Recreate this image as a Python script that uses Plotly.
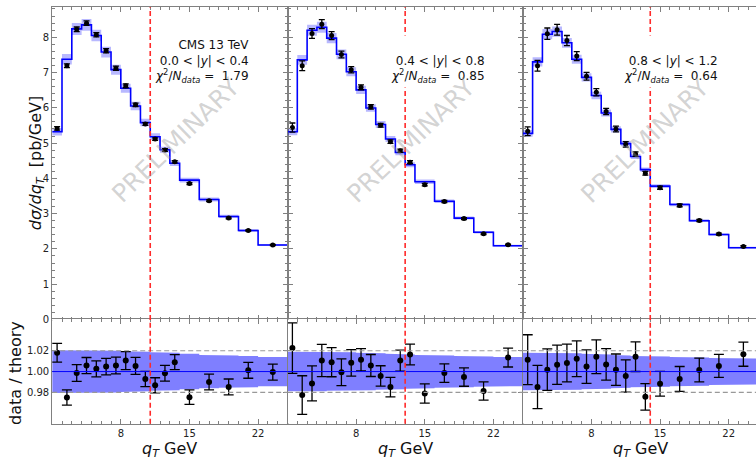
import plotly.graph_objects as go

# q_T binning (GeV) shared by the three rapidity slices
qt_edges = [1, 2, 3, 4, 5, 6, 7, 8, 9, 10, 11, 12, 13, 14, 16, 18, 20, 22, 25]

# theory prediction per bin (pb/GeV)
theory_y1 = [5.32, 7.375, 8.235, 8.35, 8.05, 7.58, 7.08, 6.555, 6.05, 5.58,
             5.18, 4.81, 4.43, 3.95, 3.40, 2.92, 2.52, 2.11]
theory_y2 = [5.32, 7.357, 8.197, 8.281, 7.973, 7.515, 7.02, 6.507, 5.993, 5.527,
             5.116, 4.733, 4.387, 3.902, 3.35, 2.874, 2.473, 2.09]
theory_y3 = [5.275, 7.30, 8.085, 8.16, 7.842, 7.375, 6.862, 6.349, 5.853, 5.387,
             4.985, 4.621, 4.247, 3.78, 3.257, 2.80, 2.408, 2.034]

# relative theory uncertainty (%)
theory_unc1 = [2.05, 2.05, 2.05, 2.0, 2.0, 2.0, 2.0, 1.95, 1.95, 1.9,
               1.85, 1.8, 1.8, 1.7, 1.6, 1.55, 1.5, 1.4]
theory_unc2 = [1.9, 1.9, 1.9, 1.9, 1.85, 1.85, 1.85, 1.8, 1.8, 1.75,
               1.7, 1.7, 1.65, 1.6, 1.55, 1.5, 1.45, 1.4]
theory_unc3 = [1.8, 1.8, 1.8, 1.8, 1.75, 1.75, 1.7, 1.7, 1.65, 1.6,
               1.55, 1.5, 1.5, 1.45, 1.4, 1.35, 1.3, 1.25]

# measured cross sections (pb/GeV)
data_y1 = [5.416, 7.191, 8.224, 8.398, 8.071, 7.616, 7.121, 6.624, 6.083, 5.540,
           5.112, 4.802, 4.470, 3.853, 3.366, 2.877, 2.523, 2.109]
data_y2 = [5.440, 7.191, 8.104, 8.369, 8.045, 7.510, 7.079, 6.581, 6.028, 5.504,
           5.040, 4.783, 4.459, 3.820, 3.345, 2.859, 2.427, 2.118]
data_y3 = [5.335, 7.192, 8.100, 8.213, 7.906, 7.466, 6.895, 6.439, 5.893, 5.397,
           4.964, 4.687, 4.144, 3.736, 3.234, 2.804, 2.421, 2.068]

# relative data uncertainty (%)
data_unc1 = [0.89, 0.75, 0.80, 0.77, 0.76, 0.79, 0.80, 0.85, 0.82, 0.74,
             0.73, 0.76, 0.71, 0.71, 0.77, 0.77, 0.76, 0.77]
data_unc2 = [2.37, 1.90, 1.70, 1.53, 1.39, 1.29, 1.26, 1.06, 1.05, 0.98,
             0.95, 1.00, 0.98, 0.94, 0.89, 0.89, 0.89, 0.89]
data_unc3 = [2.37, 2.10, 1.98, 1.87, 1.80, 1.70, 1.60, 1.60, 1.50, 1.50,
             1.55, 1.40, 1.30, 1.20, 1.20, 1.14, 1.10, 1.14]

rapidity_labels = ["0.0 &lt; |<i>y</i>| &lt; 0.4", "0.4 &lt; |<i>y</i>| &lt; 0.8",
                   "0.8 &lt; |<i>y</i>| &lt; 1.2"]
chi2_values = [1.79, 0.85, 0.64]
qt_cut = [11, 13, 14]
x_tick_vals = [8, 15, 22]

theories = [theory_y1, theory_y2, theory_y3]
theory_uncs = [theory_unc1, theory_unc2, theory_unc3]
datas = [data_y1, data_y2, data_y3]
data_uncs = [data_unc1, data_unc2, data_unc3]

W, H = 756, 460
FONT = "DejaVu Sans"
AX_GRAY = "#808080"

# panel geometry in pixels
col_px = [(52.2, 287.5), (287.5, 522.8), (522.8, 756.0)]
px_per_unit_y = 35.7
y_top_range = [-0.015, 8.85]
top_px = (7.3, 323.0 + 0.015 * px_per_unit_y)
rat_px = (323.0, 428.3)
px_per_gev = (col_px[0][1] - col_px[0][0]) / 24.0


def fx(p):
    return p / W


def fy(p):
    return 1 - p / H


def step_xy(edges, vals):
    xs, ys = [], []
    for i, v in enumerate(vals):
        xs += [edges[i], edges[i + 1]]
        ys += [v, v]
    return xs, ys


def band_xy(edges, lo, hi):
    xu, yu = step_xy(edges, hi)
    xl, yl = step_xy(edges, lo)
    return xu + xl[::-1] + [xu[0]], yu + yl[::-1] + [yu[0]]


def ax_id(k):
    return "" if k == 1 else str(k)


centers = [(qt_edges[i] + qt_edges[i + 1]) / 2 for i in range(len(qt_edges) - 1)]

fig = go.Figure()
layout = dict(
    width=W, height=H, margin=dict(l=0, r=0, t=0, b=0),
    paper_bgcolor="white", plot_bgcolor="white", showlegend=False,
    font=dict(family=FONT, size=10, color="#222"),
)

common_axis = dict(
    showline=True, linecolor=AX_GRAY, linewidth=1,
    ticks="inside", ticklen=5, tickwidth=1, tickcolor=AX_GRAY,
    showgrid=False, zeroline=False,
    tickfont=dict(family=FONT, size=10, color="#222"),
)

shapes, annotations = [], []

for c in range(3):
    k_top, k_rat = c + 1, c + 4
    th, tu, dv, du = theories[c], theory_uncs[c], datas[c], data_uncs[c]
    xt, xr = "x" + ax_id(k_top), "x" + ax_id(k_rat)
    yt, yr = "y" + ax_id(k_top), "y" + ax_id(k_rat)

    x0p, x1p = col_px[c]
    xmax = 1 + (x1p - x0p) / px_per_gev
    xdom = [fx(x0p), min(fx(x1p), 1.0)]
    # the last column runs past the page edge: no right-hand frame there
    y_mirror = "allticks" if c < 2 else False

    # ---- upper panel: cross section ----
    lo = [t * (1 - u / 100) for t, u in zip(th, tu)]
    hi = [t * (1 + u / 100) for t, u in zip(th, tu)]
    bx, by = band_xy(qt_edges, lo, hi)
    fig.add_trace(go.Scatter(x=bx, y=by, xaxis=xt, yaxis=yt, mode="lines",
                             fill="toself", fillcolor="rgba(0,0,255,0.28)",
                             line=dict(width=0), hoverinfo="skip"))
    sx, sy = step_xy(qt_edges, th)
    fig.add_trace(go.Scatter(x=sx, y=sy, xaxis=xt, yaxis=yt, mode="lines",
                             line=dict(color="#0000ff", width=1.6)))
    derr = [d * u / 100 for d, u in zip(dv, du)]
    fig.add_trace(go.Scatter(x=centers, y=dv, xaxis=xt, yaxis=yt, mode="markers",
                             marker=dict(color="black", size=5),
                             error_y=dict(type="data", array=derr, color="black",
                                          thickness=1.3, width=3)))

    # ---- lower panel: data / theory ----
    rlo = [1 - u / 100 for u in tu]
    rhi = [1 + u / 100 for u in tu]
    rbx, rby = band_xy(qt_edges, rlo, rhi)
    fig.add_trace(go.Scatter(x=rbx, y=rby, xaxis=xr, yaxis=yr, mode="lines",
                             fill="toself", fillcolor="rgba(0,0,255,0.5)",
                             line=dict(width=0), hoverinfo="skip"))
    ratio = [d / t for d, t in zip(dv, th)]
    rerr = [e / t for e, t in zip(derr, th)]
    fig.add_trace(go.Scatter(x=centers, y=ratio, xaxis=xr, yaxis=yr, mode="markers",
                             marker=dict(color="black", size=6),
                             error_y=dict(type="data", array=rerr, color="black",
                                          thickness=1.3, width=5)))

    # axes
    layout["xaxis" + ax_id(k_top)] = dict(
        common_axis, mirror="allticks", domain=xdom, range=[1, xmax], anchor=yt,
        tickmode="array", tickvals=x_tick_vals, showticklabels=False,
        minor=dict(ticks="inside", ticklen=3, tickcolor=AX_GRAY,
                   tickmode="linear", tick0=0, dtick=1))
    layout["xaxis" + ax_id(k_rat)] = dict(
        common_axis, mirror="allticks", domain=xdom, range=[1, xmax], anchor=yr,
        tickmode="array", tickvals=x_tick_vals,
        minor=dict(ticks="inside", ticklen=3, tickcolor=AX_GRAY,
                   tickmode="linear", tick0=0, dtick=1))
    layout["yaxis" + ax_id(k_top)] = dict(
        common_axis, mirror=y_mirror,
        domain=[fy(top_px[1]), fy(top_px[0])], range=y_top_range,
        anchor=xt, tickmode="linear", tick0=0, dtick=1,
        showticklabels=(c == 0),
        minor=dict(ticks="inside", ticklen=3, tickcolor=AX_GRAY,
                   tickmode="linear", tick0=0, dtick=0.2))
    layout["yaxis" + ax_id(k_rat)] = dict(
        common_axis, mirror=y_mirror,
        domain=[fy(rat_px[1]), fy(rat_px[0])], range=[0.95, 1.05],
        anchor=xr, tickmode="array", tickvals=[0.98, 1.0, 1.02],
        ticktext=["0.98", "1.00", "1.02"], showticklabels=(c == 0))

    # reference lines in the ratio panel
    for lvl in (0.98, 1.02):
        shapes.append(dict(type="line", xref=f"{xr} domain", x0=0, x1=1,
                           yref=yr, y0=lvl, y1=lvl,
                           line=dict(color="#999999", width=1.2, dash="5px,3px")))
    shapes.append(dict(type="line", xref=f"{xr} domain", x0=0, x1=1,
                       yref=yr, y0=1, y1=1, line=dict(color="#0000ff", width=1)))

    # q_T cut marker
    for xa, ya in ((xt, yt), (xr, yr)):
        shapes.append(dict(type="line", xref=xa, x0=qt_cut[c], x1=qt_cut[c],
                           yref=f"{ya} domain", y0=0, y1=1,
                           line=dict(color="#ff2a2a", width=1.6, dash="5px,3px")))

    # info box
    first = "CMS 13 TeV" if c == 0 else "&nbsp;"
    info = (f"{first}<br>{rapidity_labels[c]}<br>"
            f"<i>χ</i><sup>2</sup>/<i>N</i><sub><i>data</i></sub> =&nbsp; {chi2_values[c]:.2f}")
    annotations.append(dict(
        text=info, xref=f"{xt} domain", yref="paper",
        x=0.85, y=fy(35), xanchor="right", yanchor="top",
        align="right", showarrow=False, bgcolor="white", borderpad=2,
        font=dict(family=FONT, size=12, color="#111")))

    # watermark
    annotations.append(dict(
        text="PRELIMINARY", xref=f"{xt} domain", yref="paper",
        x=0.525, y=fy(142), xanchor="center", yanchor="middle",
        textangle=-44, showarrow=False,
        font=dict(family=FONT, size=25, color="rgba(150,150,150,0.42)")))

    # x title
    annotations.append(dict(
        text="<i>q</i><sub><i>T</i></sub> GeV", xref="paper", yref="paper",
        x=fx(x0p + 235.3 / 2), y=fy(442), xanchor="center", yanchor="top",
        showarrow=False, font=dict(family=FONT, size=16, color="#111")))

# y titles
annotations.append(dict(
    text="<i>dσ/dq</i><sub><i>T</i></sub>&nbsp; [pb/GeV]", xref="paper", yref="paper",
    x=fx(36), y=fy(165), xanchor="center", yanchor="middle", textangle=-90,
    showarrow=False, font=dict(family=FONT, size=16, color="#111")))
annotations.append(dict(
    text="data / theory", xref="paper", yref="paper",
    x=fx(16), y=fy(377), xanchor="center", yanchor="middle", textangle=-90,
    showarrow=False, font=dict(family=FONT, size=16, color="#111")))

layout["shapes"] = shapes
layout["annotations"] = annotations
fig.update_layout(**layout)
fig.write_html("out.html")
